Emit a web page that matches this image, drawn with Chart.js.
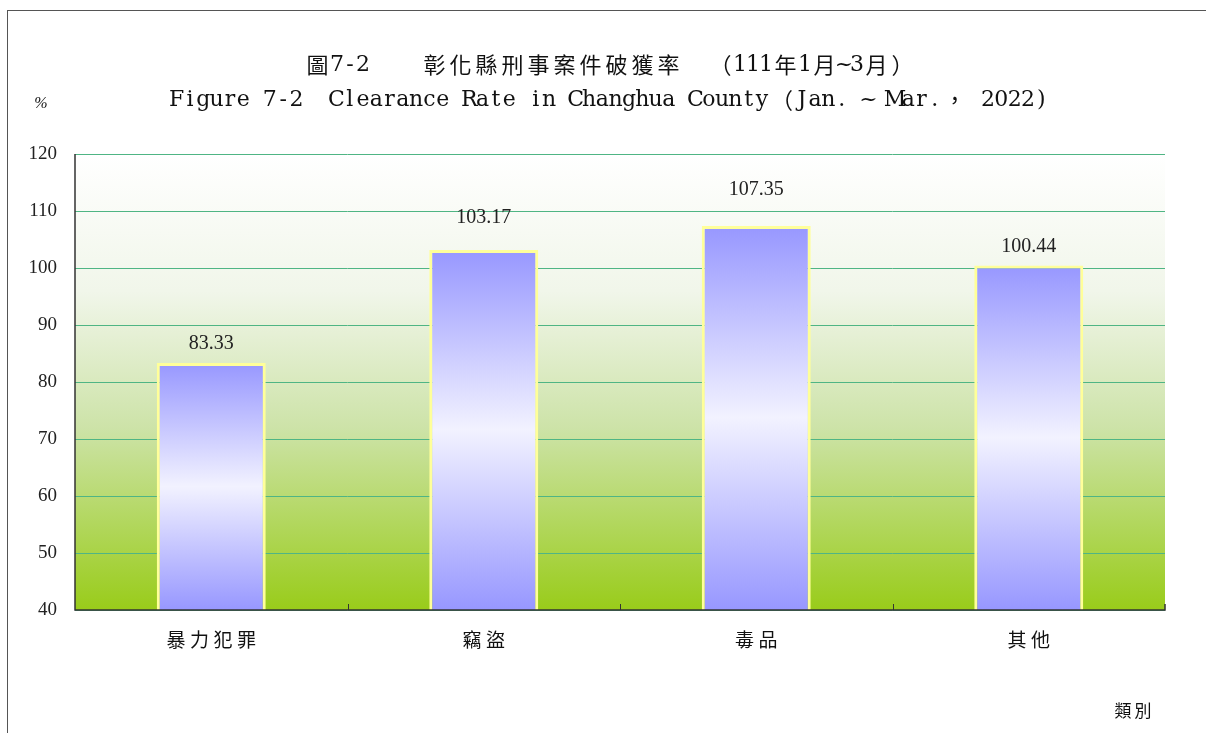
<!DOCTYPE html>
<html>
<head>
<meta charset="utf-8">
<script src="https://cdn.jsdelivr.net/npm/chart.js@4/dist/chart.umd.min.js"></script>
<style>
    body { margin: 0; background: #fff; }
    #wrap { width: 1206px; height: 733px; position: relative; }
</style>
</head>
<body>
<div id="wrap"><canvas id="grafico"></canvas></div>
<script>
const categorias = ['暴力犯罪', '竊盜', '毒品', '其他'];
const taxas = [83.33, 103.17, 107.35, 100.44];
const ticksY = [40, 50, 60, 70, 80, 90, 100, 110, 120];

const titulo1 = '圖7-2　　彰化縣刑事案件破獲率　（111年1月~3月）';
const titulo2 = 'Figure 7-2  Clearance Rate in Changhua County（Jan. ~ Mar.， 2022)';

// distância extra dos rótulos de valor (como no Excel original)
const folgaRotulo = [5, 18, 22, 5];

// escreve texto centralizado espalhando as letras até a largura pedida
function textoLargura(ctx, texto, cx, cy, largura) {
    ctx.letterSpacing = '0px';
    const w = ctx.measureText(texto).width;
    const n = [...texto].length;
    const esp = (largura - w) / n;
    ctx.letterSpacing = esp + 'px';
    ctx.textAlign = 'left';
    ctx.fillText(texto, cx - largura / 2 + esp / 2, cy);
    ctx.letterSpacing = '0px';
}

// texto em "fonte de largura fixa": letra latina = 1 casa, ideograma = 2 casas
function textoMono(ctx, texto, cx, cy, casa, fonteLat, fonteCjk) {
    const letras = [...texto];
    const larg = c => (c.charCodeAt(0) > 0x2e80 ? 2 : 1);
    const total = letras.reduce((s, c) => s + larg(c), 0) * casa;
    let px = cx - total / 2;
    ctx.textAlign = 'center';
    letras.forEach(c => {
        const w = larg(c) * casa;
        ctx.font = w > casa ? fonteCjk : fonteLat;
        ctx.fillText(c, px + w / 2, cy);
        px += w;
    });
}

// fundo, moldura, rótulos e textos extras
const enfeites = {
    id: 'enfeites',
    beforeDraw(chart) {
        const ctx = chart.ctx;
        const a = chart.chartArea;
        ctx.save();
        ctx.fillStyle = '#ffffff';
        ctx.fillRect(0, 0, chart.width, chart.height);
        const g = ctx.createLinearGradient(0, a.top, 0, a.bottom);
        g.addColorStop(0, '#ffffff');
        g.addColorStop(0.3, '#f1f6ea');
        g.addColorStop(0.6, '#cde3a8');
        g.addColorStop(1, '#99cc1a');
        ctx.fillStyle = g;
        ctx.fillRect(a.left, a.top, a.right - a.left, a.bottom - a.top);
        ctx.restore();
    },
    afterDraw(chart) {
        const ctx = chart.ctx;
        const a = chart.chartArea;
        const x = chart.scales.x;
        ctx.save();
        // moldura externa
        ctx.strokeStyle = '#555';
        ctx.lineWidth = 1;
        ctx.strokeRect(7.5, 10.5, chart.width, chart.height);
        // eixos
        ctx.strokeStyle = '#333';
        ctx.lineWidth = 1.5;
        ctx.beginPath();
        ctx.moveTo(a.left, a.top);
        ctx.lineTo(a.left, a.bottom);
        ctx.lineTo(a.right, a.bottom);
        ctx.lineTo(a.right, a.bottom - 6);
        ctx.stroke();
        // marcas entre categorias
        ctx.lineWidth = 1;
        for (let i = 1; i < categorias.length; i++) {
            const px = Math.round((x.getPixelForValue(i - 1) + x.getPixelForValue(i)) / 2) + 0.5;
            ctx.beginPath();
            ctx.moveTo(px, a.bottom);
            ctx.lineTo(px, a.bottom - 6);
            ctx.stroke();
        }
        // valores acima das barras
        ctx.fillStyle = '#222';
        ctx.font = '20px "Liberation Serif"';
        ctx.textAlign = 'center';
        ctx.textBaseline = 'bottom';
        chart.getDatasetMeta(0).data.forEach((bar, i) => {
            ctx.fillText(taxas[i].toFixed(2), bar.x, bar.y - 4 - folgaRotulo[i]);
        });
        // nomes das categorias
        ctx.fillStyle = '#111';
        ctx.textBaseline = 'middle';
        ctx.font = '19px "Noto Sans CJK TC"';
        categorias.forEach((c, i) => {
            textoLargura(ctx, c, x.getPixelForValue(i), 640, c.length * 23.5);
        });
        // títulos
        textoMono(ctx, titulo1, 610, 65, 13, '22px "DejaVu Serif"', '22px "Noto Sans CJK TC"');
        textoMono(ctx, titulo2, 609, 100, 13.3, '22px "DejaVu Serif"', '22px "Noto Sans CJK TC"');
        ctx.textAlign = 'center';
        ctx.font = 'italic 16px "Liberation Serif"';
        ctx.fillText('%', 41, 104);
        ctx.font = '17px "Noto Sans CJK TC"';
        textoLargura(ctx, '類別', 1133, 711, 40);
        ctx.restore();
    }
};

function gradienteBarra(context) {
    const chart = context.chart;
    const y = chart.scales.y;
    if (!chart.chartArea || !y || context.raw === undefined) return '#9999ff';
    const top = y.getPixelForValue(context.raw);
    const bottom = y.getPixelForValue(y.min);
    const g = chart.ctx.createLinearGradient(0, top, 0, bottom);
    g.addColorStop(0, '#9797ff');
    g.addColorStop(0.5, '#f2f2ff');
    g.addColorStop(1, '#9797ff');
    return g;
}

const ctx = document.getElementById('grafico').getContext('2d');
const grafico = new Chart(ctx, {
    type: 'bar',
    data: {
        labels: categorias,
        datasets: [{
            data: taxas,
            backgroundColor: gradienteBarra,
            borderColor: '#ffff99',
            borderWidth: 3,
            borderSkipped: false,
            categoryPercentage: 1,
            barPercentage: 0.4
        }]
    },
    options: {
        responsive: true,
        maintainAspectRatio: false,
        animation: false,
        layout: { padding: { top: 154, right: 41, left: 0, bottom: 0 } },
        plugins: {
            legend: { display: false },
            tooltip: { enabled: false }
        },
        scales: {
            x: {
                grid: { display: false },
                border: { display: false },
                ticks: {
                    color: 'rgba(0,0,0,0)',
                    font: { family: '"Noto Sans CJK TC"', size: 19 },
                    padding: 18
                },
                afterFit: s => { s.height = 123; }
            },
            y: {
                min: 40,
                max: 120,
                afterBuildTicks: s => { s.ticks = ticksY.map(v => ({ value: v })); },
                grid: {
                    color: '#4fb584',
                    lineWidth: 1,
                    tickLength: 0
                },
                border: { display: false },
                ticks: {
                    color: '#222',
                    font: { family: '"Liberation Serif"', size: 19 },
                    padding: 18
                },
                afterFit: s => { s.width = 75; }
            }
        }
    },
    plugins: [enfeites]
});
</script>
</body>
</html>
